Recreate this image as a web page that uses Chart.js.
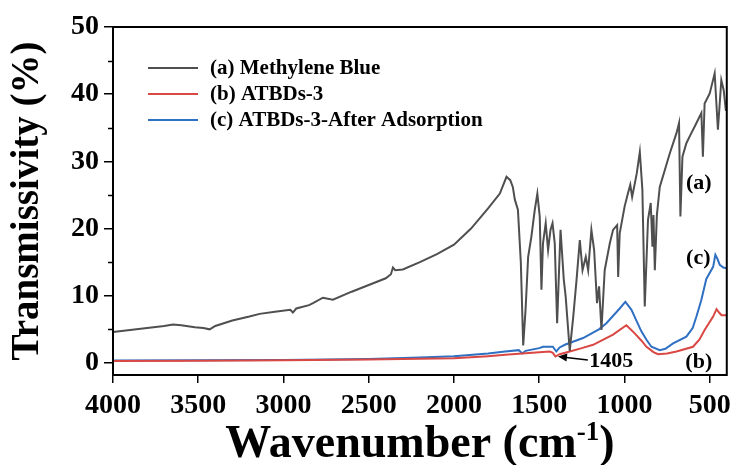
<!DOCTYPE html>
<html>
<head>
<meta charset="utf-8">
<script src="https://cdn.jsdelivr.net/npm/chart.js@4.4.0/dist/chart.umd.min.js"></script>
<style>
  html, body { margin: 0; padding: 0; background: #fff; }
</style>
</head>
<body>
<canvas id="ftir" width="737" height="465"></canvas>
<script>
// FTIR spectra, wavenumber (cm-1) vs transmissivity (%)

// (a) methylene blue
const mbWave = [4000, 3900, 3800, 3700, 3648, 3600, 3520, 3470, 3433, 3400, 3300, 3200, 3140, 3050, 2960, 2945, 2925,
  2850, 2827, 2769, 2710, 2600, 2500, 2400, 2370, 2358, 2345, 2300, 2200, 2100, 2000, 1900, 1800, 1731, 1692,
  1670, 1655, 1643, 1625, 1608, 1594, 1580, 1565, 1546, 1526, 1511, 1497, 1487, 1478, 1462, 1448, 1434, 1422,
  1409, 1395, 1375, 1356, 1345, 1321, 1300, 1281, 1262, 1246, 1227, 1213, 1194, 1178, 1161, 1149, 1135, 1116,
  1086, 1067, 1043, 1037, 1028, 999, 980, 966, 955, 928, 910, 895, 881, 862, 846, 836, 830, 822, 810, 793,
  734, 695, 680, 672, 660, 637, 608, 588, 549, 540, 530, 500, 471, 452, 432, 418, 405];
const mbT = [4.6, 4.9, 5.2, 5.5, 5.7, 5.6, 5.3, 5.2, 5.0, 5.5, 6.3, 6.9, 7.3, 7.6, 7.9, 7.5, 8.1,
  8.6, 8.9, 9.7, 9.4, 10.6, 11.6, 12.6, 13.2, 14.2, 13.8, 13.9, 15.0, 16.2, 17.6, 20.0, 23.0, 25.2, 27.7,
  27.2, 26.2, 24.3, 22.8, 15.0, 2.6, 8.0, 15.8, 18.8, 22.8, 25.2, 21.8, 10.9, 17.8, 20.8, 16.8, 19.8, 20.8,
  17.8, 5.9, 19.8, 12.4, 9.9, 1.8, 7.0, 12.4, 18.3, 13.8, 15.8, 13.8, 19.8, 16.8, 8.9, 11.4, 4.9, 13.8,
  17.8, 19.8, 20.5, 12.8, 19.3, 23.3, 25.2, 26.5, 24.7, 28.2, 31.4, 25.8, 8.4, 21.3, 23.8, 17.3, 22.0, 13.8, 22.0, 26.2,
  31.2, 34.2, 35.7, 21.8, 30.7, 32.7, 34.2, 35.2, 37.2, 30.7, 38.6, 40.1, 43.1, 34.7, 42.1, 40.6, 37.5];

// (b) ATBDs-3
const atWave = [4000, 3500, 3000, 2500, 2000, 1800, 1700, 1600, 1500, 1438, 1420, 1405, 1380, 1321, 1250, 1184,
  1067, 989, 960, 940, 900, 871, 830, 803, 750, 695, 598, 560, 530, 480, 460, 445, 431, 402];
const atT = [0.3, 0.32, 0.38, 0.5, 0.7, 1.0, 1.2, 1.4, 1.6, 1.7, 1.5, 0.95, 1.3, 1.7, 2.2, 2.7,
  4.2, 5.6, 4.9, 4.4, 3.3, 2.4, 1.6, 1.3, 1.4, 1.7, 2.4, 3.5, 4.9, 6.9, 8.0, 7.5, 7.1, 7.1];

// (c) ATBDs-3 after adsorption
const adWave = [4000, 3500, 3000, 2500, 2200, 2000, 1800, 1700, 1620, 1600, 1580, 1500, 1478, 1420, 1400, 1380,
  1350, 1243, 1150, 1106, 1028, 995, 980, 959, 930, 901, 870, 842, 793, 760, 715, 637, 600, 578, 550, 520,
  480, 467, 455, 441, 420, 402];
const adT = [0.35, 0.38, 0.45, 0.6, 0.8, 1.0, 1.4, 1.7, 1.9, 1.4, 1.8, 2.2, 2.4, 2.4, 1.7, 2.3,
  2.7, 3.7, 5.0, 5.9, 8.1, 9.1, 8.6, 7.9, 6.3, 4.7, 3.4, 2.4, 1.9, 2.1, 2.9, 3.9, 5.2, 6.9, 9.3, 12.5,
  14.3, 16.1, 15.5, 14.6, 14.2, 14.1];

const seriesNames = ['(a) Methylene Blue', '(b) ATBDs-3', '(c) ATBDs-3-After Adsorption'];
const seriesColors = ['#4f4f4f', '#d94843', '#2f70c2'];

const xTicks = [4000, 3500, 3000, 2500, 2000, 1500, 1000, 500];
const yTicks = [0, 10, 20, 30, 40, 50];
const yMinor = [5, 15, 25, 35, 45];

// curve labels and the 1405 marker, in data units
const notes = [
  { text: '(a)', w: 564, v: 26.8 },
  { text: '(c)', w: 567, v: 15.6 },
  { text: '(b)', w: 564, v: 0.15 },
  { text: '1405', w: 1077, v: 0.2 }
];
const arrowFrom = { w: 1215, v: 0.45 };
const arrowTo = { w: 1390, v: 0.95 };

const SERIF = '"Liberation Serif", "Times New Roman", serif';

function toPoints(xs, ys) {
  return xs.map((x, i) => ({ x: x, y: ys[i] }));
}

// frame, minor ticks, legend, labels, x title with superscript
const decorations = {
  id: 'decorations',
  afterDraw(chart) {
    const ctx = chart.ctx;
    const ca = chart.chartArea;
    const xs = chart.scales.x, ys = chart.scales.y;
    ctx.save();

    ctx.strokeStyle = '#000';
    ctx.lineWidth = 2;
    ctx.strokeRect(ca.left, ca.top, ca.right - ca.left, ca.bottom - ca.top);

    ctx.lineWidth = 1.5;
    yMinor.forEach(v => {
      const py = Math.round(ys.getPixelForValue(v)) + 0.5;
      ctx.beginPath();
      ctx.moveTo(ca.left - 5, py);
      ctx.lineTo(ca.left, py);
      ctx.stroke();
    });

    // legend
    ctx.font = 'bold 21px ' + SERIF;
    ctx.textBaseline = 'middle';
    ctx.textAlign = 'left';
    seriesNames.forEach((name, i) => {
      const ly = ca.top + 41 + i * 26;
      ctx.strokeStyle = seriesColors[i];
      ctx.lineWidth = 2;
      ctx.beginPath();
      ctx.moveTo(ca.left + 35, ly);
      ctx.lineTo(ca.left + 85, ly);
      ctx.stroke();
      ctx.fillStyle = '#000';
      ctx.fillText(name, ca.left + 97, ly + 1);
    });

    // curve labels
    ctx.font = 'bold 22px ' + SERIF;
    ctx.textAlign = 'center';
    notes.forEach(n => {
      ctx.fillText(n.text, xs.getPixelForValue(n.w), ys.getPixelForValue(n.v));
    });

    // arrow to the 1405 band
    const x0 = xs.getPixelForValue(arrowFrom.w), y0 = ys.getPixelForValue(arrowFrom.v);
    const x1 = xs.getPixelForValue(arrowTo.w), y1 = ys.getPixelForValue(arrowTo.v);
    const ang = Math.atan2(y1 - y0, x1 - x0);
    ctx.strokeStyle = '#000';
    ctx.lineWidth = 1.5;
    ctx.beginPath();
    ctx.moveTo(x0, y0);
    ctx.lineTo(x1 - 6 * Math.cos(ang), y1 - 6 * Math.sin(ang));
    ctx.stroke();
    ctx.beginPath();
    ctx.moveTo(x1, y1);
    ctx.lineTo(x1 - 9 * Math.cos(ang) + 4 * Math.sin(ang), y1 - 9 * Math.sin(ang) - 4 * Math.cos(ang));
    ctx.lineTo(x1 - 9 * Math.cos(ang) - 4 * Math.sin(ang), y1 - 9 * Math.sin(ang) + 4 * Math.cos(ang));
    ctx.closePath();
    ctx.fillStyle = '#000';
    ctx.fill();

    // x axis title
    const big = 'bold 46px ' + SERIF, small = 'bold 27px ' + SERIF;
    const partA = 'Wavenumber (cm', sup = '-1', partB = ')';
    ctx.font = big;
    const wA = ctx.measureText(partA).width, wB = ctx.measureText(partB).width;
    ctx.font = small;
    const wS = ctx.measureText(sup).width;
    const base = 457;
    let tx = (ca.left + ca.right) / 2 - (wA + wS + wB) / 2;
    ctx.textAlign = 'left';
    ctx.textBaseline = 'alphabetic';
    ctx.font = big;
    ctx.fillText(partA, tx, base);
    tx += wA;
    ctx.font = small;
    ctx.fillText(sup, tx, base - 17);
    tx += wS;
    ctx.font = big;
    ctx.fillText(partB, tx, base);

    ctx.restore();
  }
};

new Chart(document.getElementById('ftir'), {
  type: 'line',
  data: {
    datasets: [
      { label: seriesNames[0], data: toPoints(mbWave, mbT), borderColor: seriesColors[0] },
      { label: seriesNames[1], data: toPoints(atWave, atT), borderColor: seriesColors[1] },
      { label: seriesNames[2], data: toPoints(adWave, adT), borderColor: seriesColors[2] }
    ]
  },
  options: {
    responsive: false,
    animation: false,
    devicePixelRatio: 1,
    layout: { padding: { top: 27, right: 10, left: 0, bottom: 0 } },
    elements: {
      line: { borderWidth: 2, tension: 0, fill: false },
      point: { radius: 0 }
    },
    plugins: {
      legend: { display: false },
      tooltip: { enabled: false }
    },
    scales: {
      x: {
        type: 'linear',
        reverse: true,
        min: 400,
        max: 4000,
        afterBuildTicks: s => { s.ticks = xTicks.map(v => ({ value: v })); },
        afterFit: s => { s.height = 90; },
        ticks: {
          color: '#000',
          padding: 6,
          maxRotation: 0,
          autoSkip: false,
          callback: v => String(v),
          font: { family: SERIF, size: 28, weight: 'bold' }
        },
        grid: { drawOnChartArea: false, drawTicks: true, tickLength: 8, color: '#000', lineWidth: 1.5 },
        border: { display: false }
      },
      y: {
        min: -1.8,
        max: 50,
        afterBuildTicks: s => { s.ticks = yTicks.map(v => ({ value: v })); },
        afterFit: s => { s.width = 113; },
        ticks: {
          color: '#000',
          padding: 5,
          callback: v => String(v),
          font: { family: SERIF, size: 28, weight: 'bold' }
        },
        grid: { drawOnChartArea: false, drawTicks: true, tickLength: 9, color: '#000', lineWidth: 1.5 },
        border: { display: false },
        title: {
          display: true,
          text: 'Transmissivity (%)',
          color: '#000',
          padding: { top: 5, bottom: 0 },
          font: { family: SERIF, size: 39, weight: 'bold' }
        }
      }
    }
  },
  plugins: [decorations]
});
</script>
</body>
</html>
